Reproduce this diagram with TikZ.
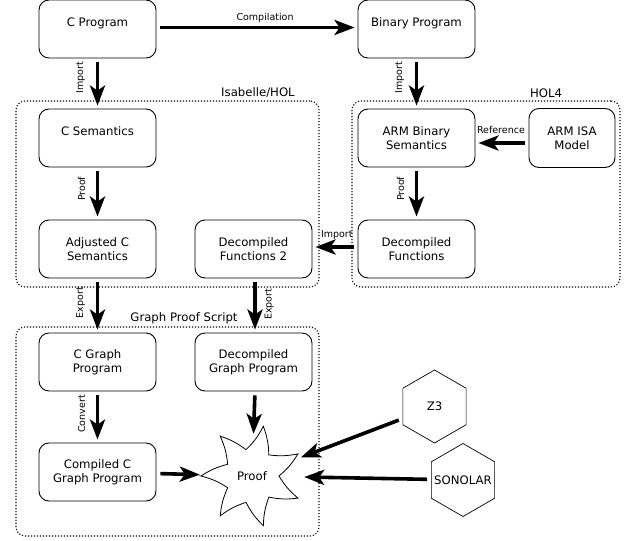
\documentclass[tikz,border=0pt]{standalone}
\usepackage{fontspec}
\setmainfont{DejaVu Sans}
\usepackage{graphicx}
\usetikzlibrary{shapes.geometric,arrows.meta}
\begin{document}
\begin{tikzpicture}[x=1pt,y=-1pt,
 box/.style={draw, rounded corners=10pt, minimum width=117pt, minimum height=58pt, align=center,
   font=\fontsize{11.7}{14}\selectfont, inner sep=0pt, line width=0.9pt},
 cont/.style={draw, dash pattern=on 1.1pt off 1.9pt, rounded corners=9pt, line width=1.1pt, inner sep=0pt},
 arr/.style={line width=3.6pt, -{Stealth[length=20pt,width=15pt,inset=5pt]}, shorten <=4pt, shorten >=3pt},
 lbl/.style={font=\fontsize{9.5}{11}\selectfont, inner sep=1.5pt},
 title/.style={font=\fontsize{11.7}{14}\selectfont, inner sep=0pt},
 hexa/.style={draw, regular polygon, regular polygon sides=6, shape border rotate=30, minimum size=73pt,
   inner sep=0pt, line width=0.7pt, font=\fontsize{11.7}{14}\selectfont},
]
\useasboundingbox (0,0) rectangle (638,541);

% containers
\node[cont, minimum width=303pt, minimum height=186pt] (isa) at (167.5,194) {};
\node[cont, minimum width=268pt, minimum height=186pt] (hol) at (486,194) {};
\node[cont, minimum width=303pt, minimum height=209pt] (gps) at (167.5,431.5) {};
\node[title] (isat) at (258,93) {Isabelle/HOL};
\node[title] (holt) at (546,93) {HOL4};
\node[title] (gpst) at (184,318) {Graph Proof Script};

% boxes
\node[box] (cprog) at (97.5,29) {C Program\\\mbox{}};
\node[box] (binprog) at (416.5,29) {Binary Program\\\mbox{}};
\node[box] (csem) at (97.5,138) {C Semantics\\\mbox{}};
\node[box] (armsem) at (416.5,138) {ARM Binary\\Semantics};
\node[box, minimum width=86pt, minimum height=59pt] (armisa) at (572,138) {ARM ISA\\Model};
\node[box] (adjc) at (97.5,249) {Adjusted C\\Semantics};
\node[box] (dec2) at (253.5,249) {Decompiled\\Functions 2};
\node[box] (decf) at (416.5,249) {Decompiled\\Functions};
\node[box] (cgraph) at (97.5,362) {C Graph\\Program};
\node[box] (decg) at (253.5,362) {Decompiled\\Graph Program};
\node[box] (compc) at (97.5,472) {Compiled C\\Graph Program};

% proof star
\node[circle, minimum size=98pt, inner sep=0pt, font=\fontsize{11.7}{14}\selectfont] (proof) at (252,476) {Proof};
\begin{scope}[shift={(proof.center)}]
\draw[line width=0.8pt, line join=miter] (180:51)
  \foreach \k in {0,...,6} { to[bend left=9] ({180-\k*51.4286-25.7143}:27)
                             to[bend right=9] ({180-(\k+1)*51.4286}:51) } -- cycle;
\end{scope}

\node[hexa] (z3) at (434.5,406.5) {\makebox[0pt]{Z3}};
\node[hexa] (sono) at (463,480) {\makebox[0pt]{SONOLAR}};

% arrows
\draw[arr] ([yshift=1.5pt]cprog.east) -- node[lbl, pos=0.54, anchor=south, yshift=2.2pt] {Compilation} ([yshift=1.5pt]binprog.west);
\draw[arr] (cprog) -- node[lbl, pos=0.38, left=9pt] {\rotatebox{90}{Import}} (csem);
\draw[arr] (binprog) -- node[lbl, pos=0.38, left=9pt] {\rotatebox{90}{Import}} (armsem);
\draw[arr] ([yshift=-5pt]armisa.west) -- node[lbl, pos=0.52, anchor=south, yshift=6.5pt] {Reference} ([yshift=-5pt]armsem.east);
\draw[arr] (csem) -- node[lbl, pos=0.41, left=9pt] {\rotatebox{90}{Proof}} (adjc);
\draw[arr] (armsem) -- node[lbl, pos=0.41, left=9pt] {\rotatebox{90}{Proof}} (decf);
\draw[arr] ([yshift=2pt]decf.west) -- node[lbl, pos=0.46, anchor=south, yshift=4.2pt] {Import} ([yshift=2pt]dec2.east);
\draw[arr] (adjc) -- node[lbl, pos=0.45, left=9pt] {\rotatebox{90}{Export}} (cgraph);
\draw[arr] ([xshift=1.5pt]dec2.south) -- node[lbl, pos=0.48, right=6.5pt] {\rotatebox{90}{Export}} ([xshift=1.5pt]decg.north);
\draw[arr] (cgraph) -- node[lbl, pos=0.44, left=9pt] {\rotatebox{90}{Convert}} (compc);
\draw[arr, shorten >=-7pt] ([xshift=1.5pt]decg.south) -- (proof);
\draw[arr] (compc) -- (proof);
\draw[arr] (z3) -- (proof);
\draw[arr] (sono) -- (proof);
\end{tikzpicture}
\end{document}
